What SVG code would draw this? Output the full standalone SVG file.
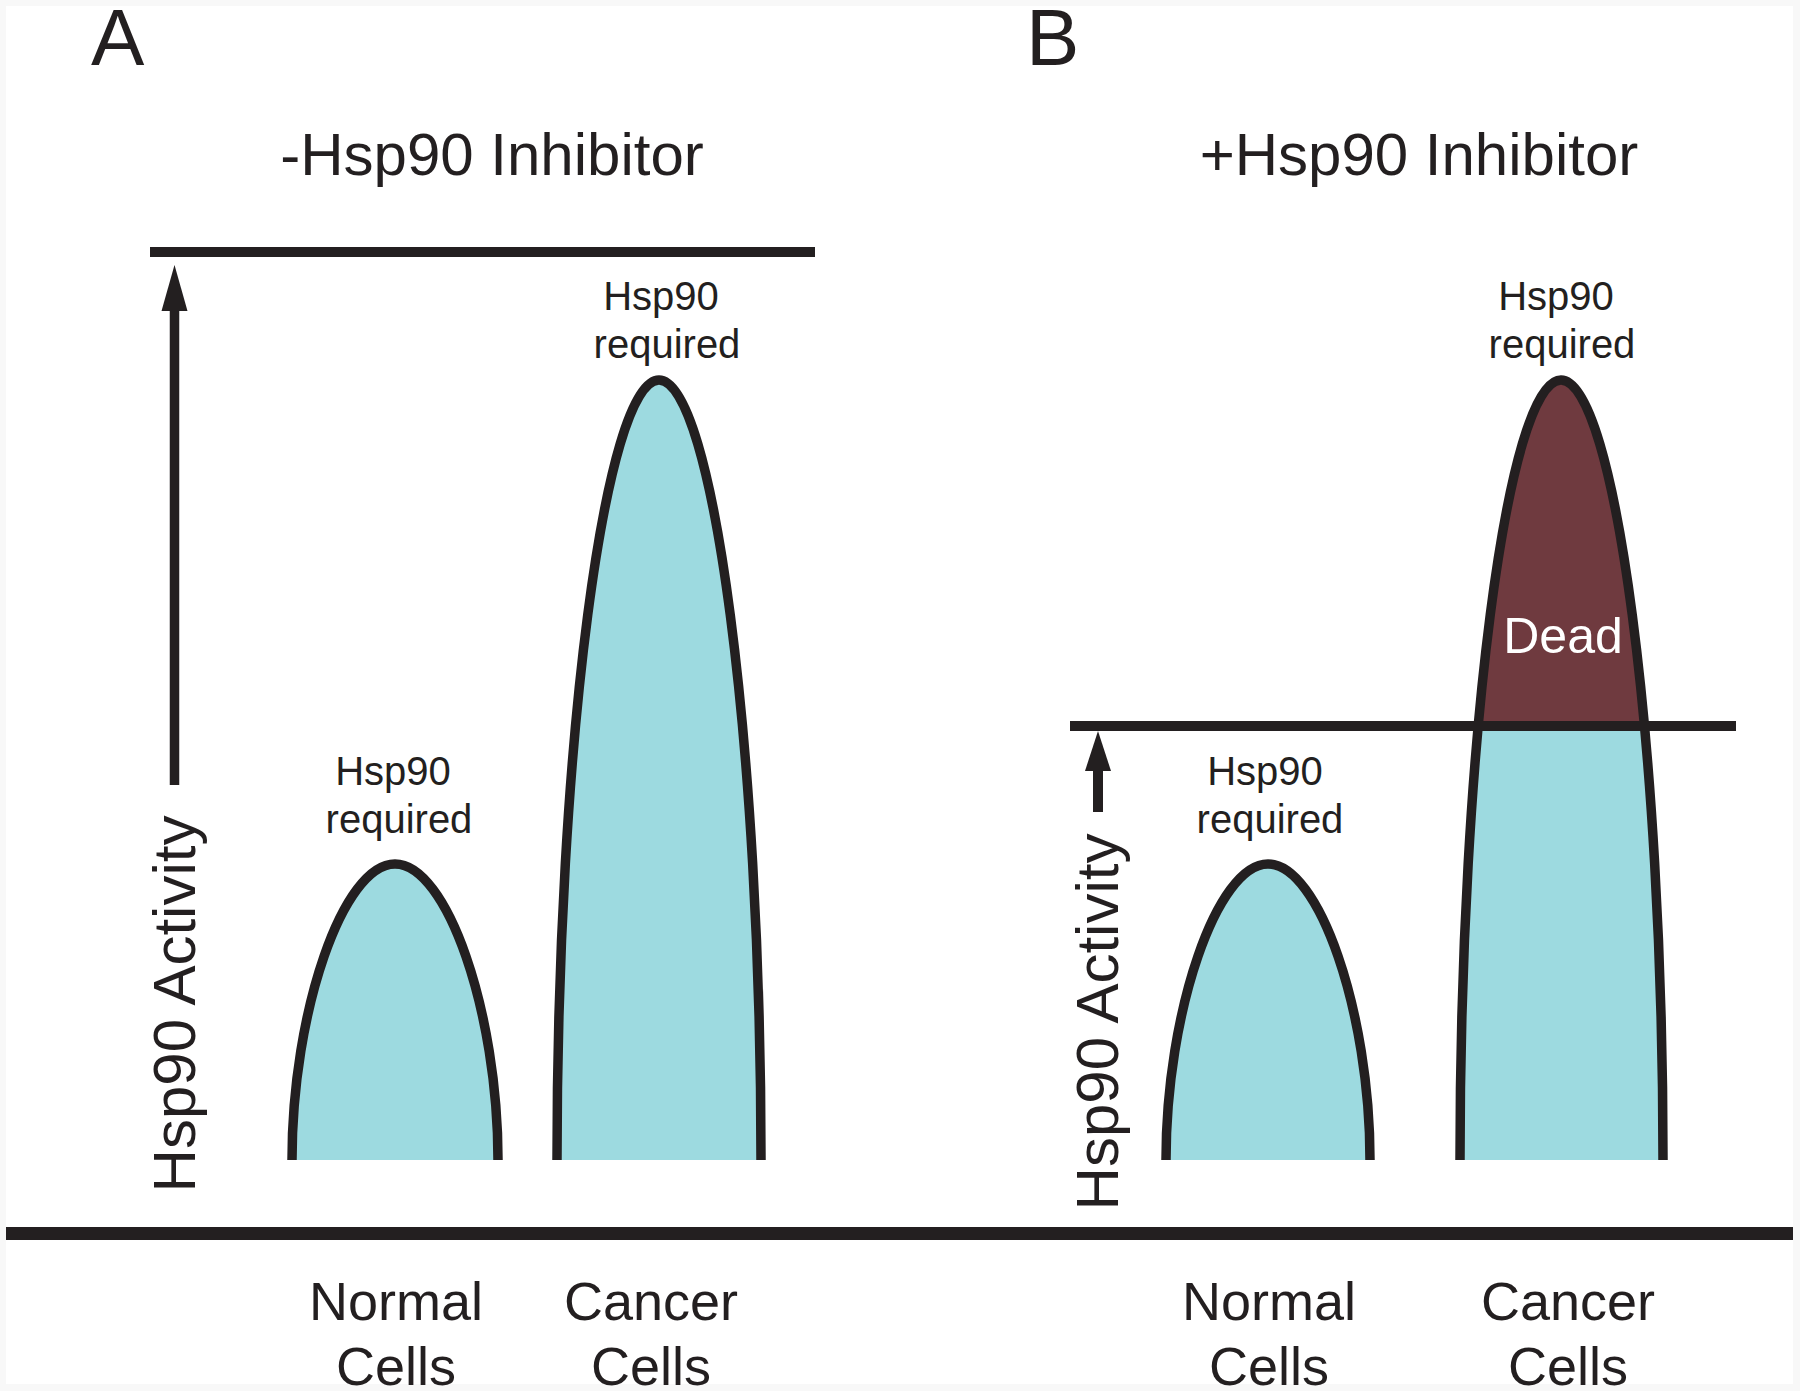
<svg xmlns="http://www.w3.org/2000/svg" width="1800" height="1391" viewBox="0 0 1800 1391">
  <style>
    .t { font-family: "Liberation Sans", Arial, Helvetica, sans-serif; fill: #231F20; }
    .panel { font-size: 80px; }
    .title { font-size: 60px; text-anchor: middle; }
    .axis { font-size: 60px; text-anchor: middle; }
    .small { font-size: 40px; text-anchor: middle; }
    .cat { font-size: 54px; text-anchor: middle; }
    .dead { font-family: "Liberation Sans", Arial, Helvetica, sans-serif; font-size: 50px; fill: #FFFFFF; text-anchor: middle; }
    .bell { stroke: #231F20; stroke-width: 9.5; fill: none; stroke-linejoin: round; }
    .cyan { fill: #9DDAE0; stroke: none; }
    .brown { fill: #6F3A3F; stroke: none; }
    .rule { stroke: #231F20; stroke-width: 10; }
  </style>
  <defs>
    <path id="normalA" d="M 292 1160 C 292 1012, 343 864, 395 864 C 447 864, 498 1012, 498 1160"/>
    <path id="cancerA" d="M 557 1160 C 557 746, 605 380, 659 380 C 713 380, 761 746, 761 1160"/>
    <path id="normalB" d="M 1166 1160 C 1166 1012, 1217 864, 1268 864 C 1319 864, 1370 1012, 1370 1160"/>
    <path id="cancerB" d="M 1460 1160 C 1460 746, 1507 380, 1561 380 C 1615 380, 1663 746, 1663 1160"/>
    <clipPath id="aboveLine"><rect x="1400" y="300" width="350" height="426"/></clipPath>
  </defs>

  <rect x="0" y="0" width="1800" height="1391" fill="#F8F8F8"/>
  <rect x="6" y="6" width="1787" height="1378" fill="#FFFFFF"/>

  <g id="panel-labels">
    <text class="t panel" x="91" y="65">A</text>
    <text class="t panel" x="1026" y="65">B</text>
  </g>

  <g id="titles">
    <text class="t title" x="492" y="175">-Hsp90 Inhibitor</text>
    <text class="t title" x="1419" y="175">+Hsp90 Inhibitor</text>
  </g>

  <g id="axis-labels">
    <text class="t axis" transform="translate(195,1004) rotate(-90)">Hsp90 Activity</text>
    <text class="t axis" transform="translate(1118,1022) rotate(-90)">Hsp90 Activity</text>
  </g>

  <g id="node-normal-A">
    <use href="#normalA" class="cyan"/>
    <use href="#normalA" class="bell"/>
    <text class="t small" x="393" y="785">Hsp90</text>
    <text class="t small" x="399" y="833">required</text>
  </g>

  <g id="node-cancer-A">
    <use href="#cancerA" class="cyan"/>
    <use href="#cancerA" class="bell"/>
    <text class="t small" x="661" y="310">Hsp90</text>
    <text class="t small" x="667" y="358">required</text>
  </g>

  <g id="node-normal-B">
    <use href="#normalB" class="cyan"/>
    <use href="#normalB" class="bell"/>
    <text class="t small" x="1265" y="785">Hsp90</text>
    <text class="t small" x="1270" y="833">required</text>
  </g>

  <g id="node-cancer-B">
    <use href="#cancerB" class="cyan"/>
    <use href="#cancerB" class="brown" clip-path="url(#aboveLine)"/>
    <use href="#cancerB" class="bell"/>
    <text class="dead" x="1563" y="653">Dead</text>
    <text class="t small" x="1556" y="310">Hsp90</text>
    <text class="t small" x="1562" y="358">required</text>
  </g>

  <g id="threshold-lines">
    <line class="rule" x1="150" y1="252" x2="815" y2="252"/>
    <line class="rule" x1="1070" y1="726" x2="1736" y2="726"/>
  </g>

  <g id="connectors">
    <line x1="174.5" y1="305" x2="174.5" y2="785" stroke="#231F20" stroke-width="9.5"/>
    <polygon points="174.5,265 187.5,311 161.5,311" fill="#231F20"/>
    <line x1="1098" y1="765" x2="1098" y2="812" stroke="#231F20" stroke-width="10"/>
    <polygon points="1098,731 1111,771 1085,771" fill="#231F20"/>
  </g>

  <g id="baseline">
    <line x1="6" y1="1233.5" x2="1793" y2="1233.5" stroke="#231F20" stroke-width="13"/>
  </g>

  <g id="category-labels">
    <text class="t cat" x="396" y="1320">Normal</text>
    <text class="t cat" x="396" y="1385">Cells</text>
    <text class="t cat" x="651" y="1320">Cancer</text>
    <text class="t cat" x="651" y="1385">Cells</text>
    <text class="t cat" x="1269" y="1320">Normal</text>
    <text class="t cat" x="1269" y="1385">Cells</text>
    <text class="t cat" x="1568" y="1320">Cancer</text>
    <text class="t cat" x="1568" y="1385">Cells</text>
  </g>
</svg>
